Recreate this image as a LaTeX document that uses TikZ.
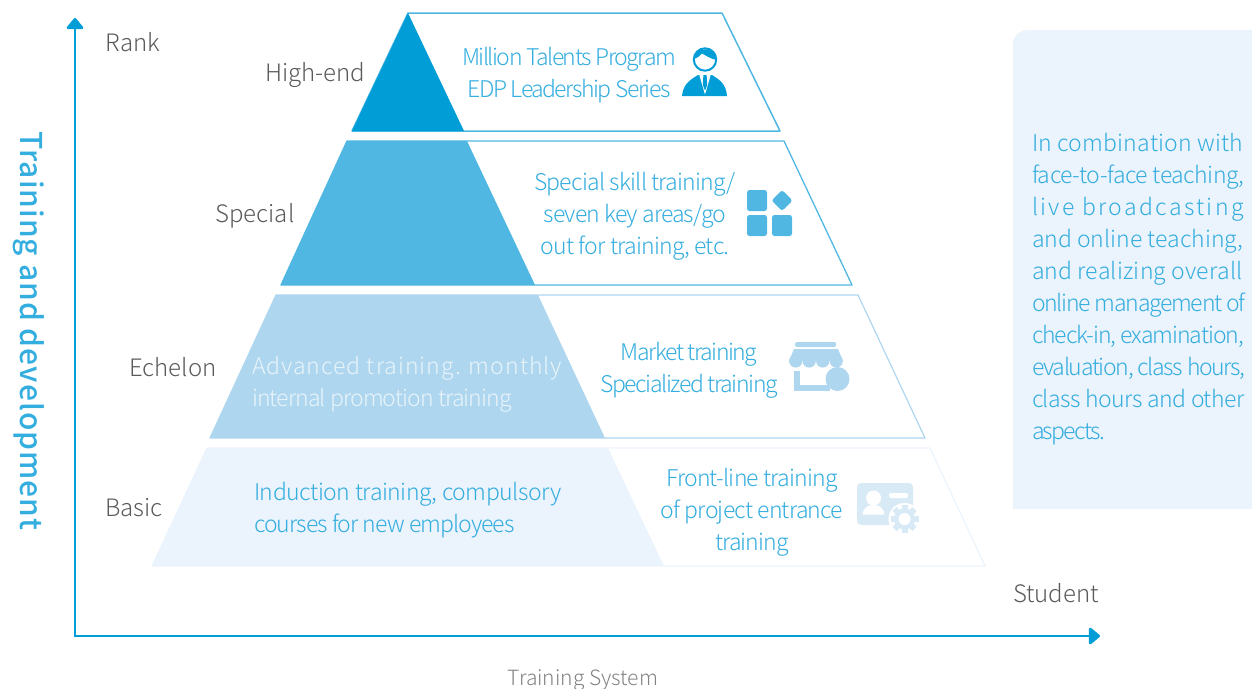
\documentclass[tikz,border=0pt]{standalone}
\usepackage{fontspec}
\usetikzlibrary{arrows.meta}
\setmainfont{Noto Sans CJK SC Light}
\newfontfamily\reg{Noto Sans CJK SC Medium}
\definecolor{blA}{HTML}{009DD6}
\definecolor{blB}{HTML}{50B7E2}
\definecolor{blC}{HTML}{AED6EF}
\definecolor{blD}{HTML}{EBF4FC}
\definecolor{blE}{HTML}{D9EAF7}
\definecolor{txtB}{HTML}{34ADDF}
\definecolor{txtG}{HTML}{5A5A5A}
\ExplSyntaxOn
\cs_new:Npn \fitcount #1 {\str_count:n{#1}}
\ExplSyntaxOff
\makeatletter
\newcommand{\fitln}[2]{{%
  \setbox0=\hbox{\addfontfeature{LetterSpace=0.01}#2}%
  \pgfmathsetmacro\fitval{(#1-\the\wd0)/(\fitcount{#2}-1)/\f@size*100}%
  \addfontfeature{LetterSpace=\fitval}#2}}
\makeatother
\tikzset{
  x=1pt,y=-1pt,
  every node/.style={inner sep=0pt,outer sep=0pt,font=\fontsize{23}{32}\selectfont},
  lbl/.style={text=txtG,anchor=base,font=\fontsize{24}{32}\selectfont},
  body/.style={text=txtB,align=center,anchor=center},
  axis/.style={draw=blA,line width=2.8pt,line cap=round,-{Triangle[length=12pt,width=19pt,round]}},
}
\begin{document}
\begin{tikzpicture}
\useasboundingbox (0,0) rectangle (1252,688);
% right panel
\fill[blD] (1252,509) -- (1013,509) [rounded corners=14pt] -- (1013,30) [sharp corners] -- (1252,30) -- cycle;
% tiers
\draw[blB,line width=1.5pt,line join=round] (408,13) -- (722,13) -- (780,131) -- (352,131) -- cycle;
\fill[blA] (408,13) -- (464,131) -- (352,131) -- cycle;
\draw[blB,line width=1.3pt,line join=round] (347,141) -- (784,141) -- (852,285) -- (281,285) -- cycle;
\fill[blB] (347,141) -- (467,141) -- (535,285) -- (281,285) -- cycle;
\draw[blC,line width=1.2pt,line join=round] (276,295) -- (858,295) -- (925,438) -- (210,438) -- cycle;
\fill[blC] (276,295) -- (538,295) -- (605,438) -- (210,438) -- cycle;
\draw[blD,line width=1.2pt,line join=round] (207,448) -- (930,448) -- (985,566) -- (152,566) -- cycle;
\fill[blD] (207,448) -- (608,448) -- (664,566) -- (152,566) -- cycle;
% axes
\coordinate (origin) at (75,636);
\coordinate (ytip) at (75,18);
\coordinate (xtip) at (1100,636);
\draw[axis] (origin) -- (ytip);
\draw[axis] (origin) -- (xtip);
% labels
\node[lbl] (rank) at (133,51.5) {Rank};
\node[lbl] (high) at (315.5,81) {High-end};
\node[lbl] (spec) at (255,222) {Special};
\node[lbl] (eche) at (173,376) {Echelon};
\node[lbl] (basic) at (134,516) {Basic};
\node[lbl] (stud) at (1056,602) {Student};
\node[text=txtG!75!white,anchor=center,font=\fontsize{21}{26}\selectfont] (sys) at (583,680) {Training System};
\node[text=txtB,rotate=-90,anchor=center,font=\fontsize{30}{34}\selectfont\reg] (ylab) at (29,331) {\fitln{401}{Training and development}};
% tier text
\node[body] (t1) at (569,75) {\fitln{211}{Million Talents Program}\\\fitln{200}{EDP Leadership Series}};
\node[body] (t2) at (635,216) {\fitln{200}{Special skill training/}\\\fitln{181}{seven key areas/go}\\\fitln{187}{out for training, etc.}};
\node[body] (t3) at (689,370) {\fitln{135}{Market training}\\\fitln{176}{Specialized training}};
\node[text=white!72!blC,align=left,anchor=west] (t3a) at (252,384) {\fitln{312}{Advanced training. monthly}\\\fitln{258}{internal promotion training}};
\node[text=txtB,align=left,anchor=west] (t4a) at (254,510) {\fitln{307}{Induction training, compulsory}\\\fitln{258}{courses for new employees}};
\node[body] (t4) at (752,512) {\fitln{171}{Front-line training}\\\fitln{181}{of project entrance}\\\fitln{74}{training}};
\node[text=txtB,align=left,anchor=north west] (side) at (1032,133) {%
\fitln{212}{In combination with}\\
\fitln{212}{face-to-face teaching,}\\
\fitln{214}{live broadcasting}\\
\fitln{211}{and online teaching,}\\
\fitln{211}{and realizing overall}\\
\fitln{211}{online management of}\\
\fitln{211}{check-in, examination,}\\
\fitln{211}{evaluation, class hours,}\\
\fitln{211}{class hours and other}\\
\fitln{73}{aspects.}};
% person icon
\fill[blA] (682,96) .. controls (683,84) and (690,80) .. (698,75) -- (712,75) .. controls (720,80) and (726,84) .. (727,96) -- cycle;
\fill[white] (699,74) -- (711,74) -- (705,94.5) -- cycle;
\fill[blA] (703.4,75) -- (706.6,75) -- (707.2,85) -- (705,90.5) -- (702.8,85) -- cycle;
\draw[blA,line width=2pt,fill=white] (705,59.5) circle (11.2);
\fill[blA] (694,59) .. controls (695,46) and (715,46) .. (716,60) .. controls (709,58) and (705,55) .. (702,53.5) .. controls (700,56) and (697,58) .. (694,59) -- cycle;
% grid icon
\fill[blB,rounded corners=2.5pt] (747,190) rectangle (767,211);
\fill[blB,rounded corners=2.5pt] (747,215) rectangle (767,236);
\fill[blB,rounded corners=2.5pt] (772,215) rectangle (792,236);
\fill[blB,rounded corners=2.5pt] (782,190) -- (792.5,200.5) -- (782,211) -- (771.5,200.5) -- cycle;
% shop icon
\fill[blC,rounded corners=1.5pt] (795,342) rectangle (836,347);
\fill[blC] (794,349) -- (838,349) -- (843,361) -- (789,361) -- cycle;
\foreach \cx in {795.7,809.2,822.7,836.2}{\fill[blC] (\cx,361) circle (6.6);}
\fill[blC] (794,371) rectangle (800,391);
\fill[blC] (794,385) rectangle (830,391);
\fill[blC] (837.5,379) circle (12);
% id card icon
\fill[blE,rounded corners=4pt] (857,483) rectangle (913,525);
\fill[white] (873.5,498) circle (7.5);
\fill[white] (862.5,514.5) .. controls (863,508) and (868,505) .. (873.5,505) .. controls (879,505) and (884,508) .. (884.5,514.5) -- cycle;
\fill[white,rounded corners=2pt] (889,493) rectangle (908,498);
\fill[white] (904.5,519) circle (16);
\fill[blE] (904.5,519) circle (10.5);
\foreach \a in {0,45,...,315}{\fill[blE,rotate around={\a:(904.5,519)}] (901.5,505) rectangle (907.5,510);}
\fill[white] (904.5,519) circle (6);
\end{tikzpicture}
\end{document}
